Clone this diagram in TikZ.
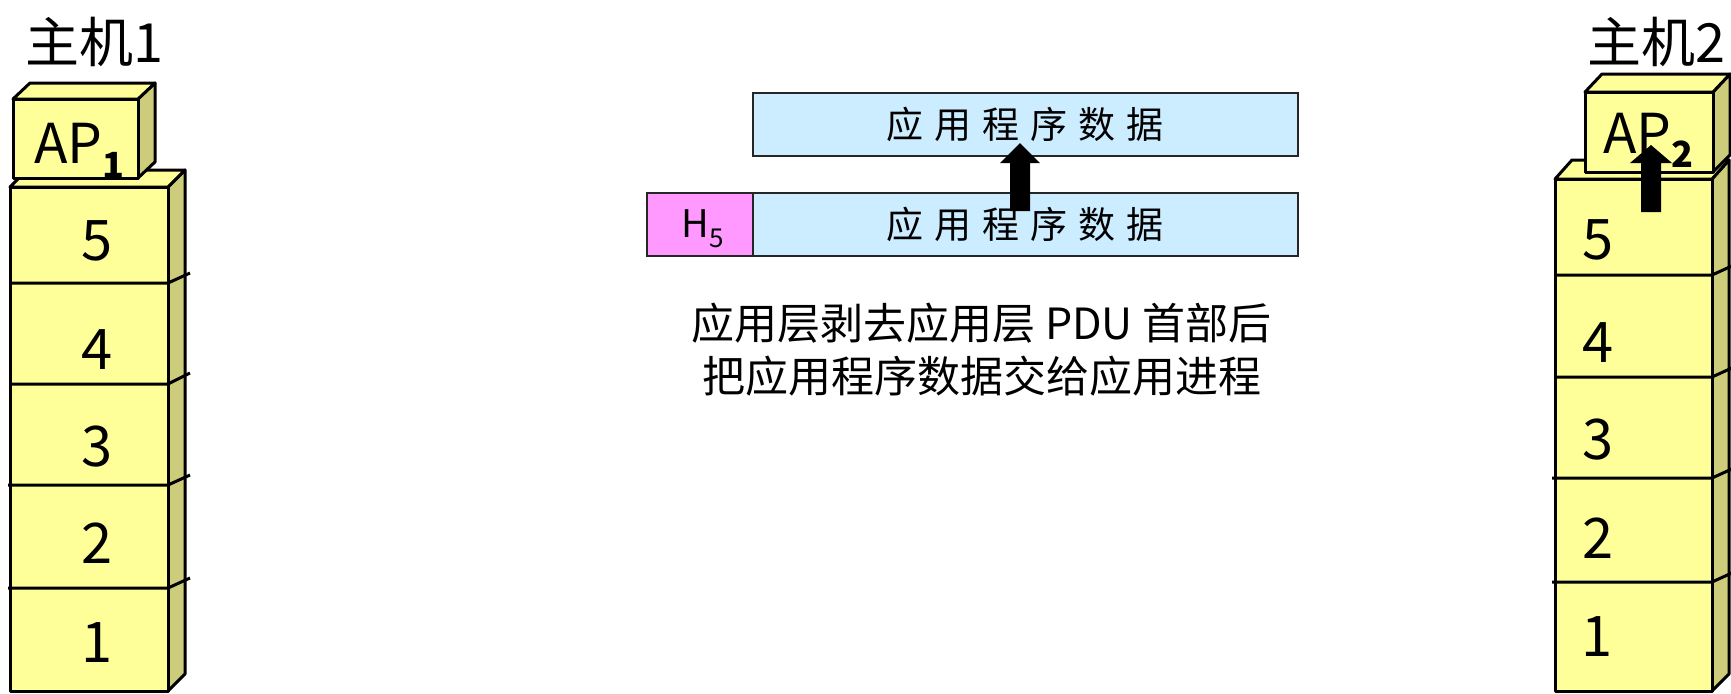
\documentclass[tikz,border=0pt]{standalone}
\usepackage{fontspec}
\setmainfont{Noto Sans CJK SC}
\definecolor{yel}{RGB}{255,255,153}
\definecolor{sidec}{RGB}{204,204,122}
\definecolor{blu}{RGB}{204,236,255}
\definecolor{pnk}{RGB}{255,153,255}
\newcommand\gapk{\kern5.5pt}
\tikzset{
  front/.style={fill=yel, draw=black, line width=1.5pt, line join=round},
  topf/.style={fill=yel, draw=black, line width=1.5pt, line join=round},
  sidef/.style={fill=sidec, draw=black, line width=1.5pt, line join=round},
  sep/.style={draw=black, line width=1.5pt},
  digit/.style={inner sep=0pt, font=\fontsize{28}{28}\selectfont},
  host/.style={inner sep=0pt, font=\fontsize{27}{27}\selectfont},
  pdubox/.style={draw=black!85, line width=0.7pt},
  boxtext/.style={inner sep=0pt, font=\fontsize{18.5}{18.5}\selectfont},
  note/.style={inner sep=0pt, font=\fontsize{21.5}{21.5}\selectfont},
  fatarrow/.style={fill=black}
}
\begin{document}
\begin{tikzpicture}[x=0.5pt,y=-0.5pt]
\useasboundingbox (0,0) rectangle (1731,693);

% ---------- Host 1 stack ----------
\draw[sidef] (168,187) -- (185,170) -- (185,674) -- (168,691) -- cycle;
\draw[topf] (10,187) -- (27,170) -- (185,170) -- (168,187) -- cycle;
\draw[front] (10,187) rectangle (168,691);
\draw[sep] (10,283) -- (168,283) -- (190,273);
\draw[sep] (10,384) -- (168,384) -- (190,373);
\draw[sep] (8,485) -- (168,485) -- (190,475);
\draw[sep] (8,588) -- (168,588) -- (190,578);
\node[digit] (l5) at (97,241) {5};
\node[digit] (l4) at (97,350) {4};
\node[digit] (l3) at (97,447) {3};
\node[digit] (l2) at (97,543) {2};
\node[digit] (l1) at (97,643) {1};
% AP1
\draw[sidef] (138,99) -- (155,83) -- (155,162) -- (138,178) -- cycle;
\draw[topf] (13,99) -- (30,83) -- (155,83) -- (138,99) -- cycle;
\draw[front] (13,99) rectangle (138,178);
\node[inner sep=0pt, anchor=base west] (ap1) at (34,163)
  {\fontsize{27.5}{27.5}\selectfont AP\raisebox{-7.5pt}{\fontsize{18}{18}\selectfont\bfseries 1}};
\node[host] (h1) at (94,42) {主机1};

% ---------- Host 2 stack ----------
\draw[sidef] (1712,179) -- (1729,160) -- (1729,674) -- (1712,691) -- cycle;
\draw[topf] (1555,179) -- (1572,160) -- (1729,160) -- (1712,179) -- cycle;
\draw[front] (1555,179) rectangle (1712,691);
\draw[sep] (1555,275) -- (1712,275) -- (1734,265);
\draw[sep] (1555,377) -- (1712,377) -- (1734,367);
\draw[sep] (1552,478) -- (1712,478) -- (1734,468);
\draw[sep] (1552,582) -- (1712,582) -- (1734,572);
\node[digit] (r5) at (1598,240) {5};
\node[digit] (r4) at (1598,343) {4};
\node[digit] (r3) at (1598,440) {3};
\node[digit] (r2) at (1598,538) {2};
\node[digit] (r1) at (1597,637) {1};
% AP2
\draw[sidef] (1713,92) -- (1730,74) -- (1730,155) -- (1713,172) -- cycle;
\draw[topf] (1585,92) -- (1602,74) -- (1730,74) -- (1713,92) -- cycle;
\draw[front] (1585,92) rectangle (1713,172);
\node[inner sep=0pt, anchor=base west] (ap2) at (1603,153)
  {\fontsize{27.5}{27.5}\selectfont AP\raisebox{-7pt}{\fontsize{18}{18}\selectfont\bfseries 2}};
\node[host] (h2) at (1656,42) {主机2};
% arrow into AP2
\coordinate (ra) at (1651,145);
\fill[fatarrow] (1641,212) -- (1641,163) -- (1630,163) -- (ra) -- (1672,163) -- (1661,163) -- (1661,212) -- cycle;

% ---------- Centre: PDUs ----------
\draw[pdubox, fill=blu] (753,93) rectangle (1298,156);
\node[boxtext] (data2) at (1025,124.5) {应\gapk 用\gapk 程\gapk 序\gapk 数\gapk 据};
\draw[pdubox, fill=pnk] (647,193) rectangle (753,256);
\draw[pdubox, fill=blu] (753,193) rectangle (1298,256);
\node[inner sep=0pt, anchor=base west] (h5) at (681,237)
  {\fontsize{19}{19}\selectfont H\raisebox{-5pt}{\fontsize{13}{13}\selectfont 5}};
\node[boxtext] (data1) at (1025,224.5) {应\gapk 用\gapk 程\gapk 序\gapk 数\gapk 据};
\coordinate (ca) at (1020,143);
\fill[fatarrow] (1010,211) -- (1010,163) -- (1000,163) -- (ca) -- (1040,163) -- (1030,163) -- (1030,211) -- cycle;

\node[note] (n1) at (981.5,323) {应用层剥去应用层 PDU 首部后};
\node[note] (n2) at (981.5,376) {把应用程序数据交给应用进程};
\end{tikzpicture}
\end{document}
